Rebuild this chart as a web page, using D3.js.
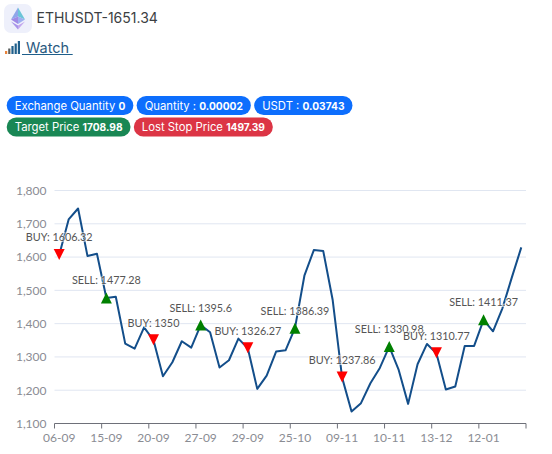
<!DOCTYPE html>
<html>
<head>
<meta charset="utf-8">
<script src="https://cdnjs.cloudflare.com/ajax/libs/d3/7.8.5/d3.min.js"></script>
<style>
body { margin: 0; background: #fff; }
svg { display: block; font-family: Inter, Lato, sans-serif; }
</style>
</head>
<body>
<div id="chart-area"></div>
<script>
// only every 5th date is readable on the axis
var dateLabels = ['06-09','15-09','20-09','27-09','29-09','25-10','09-11','10-11','13-12','12-01'];
var prices = [1606.32,1713,1746,1603,1610,1477.28,1481,1340,1325,1389,
	1350,1242,1284,1347,1328,1395.6,1374,1268,1290,1355,
	1326.27,1204,1244,1316,1320,1386.39,1544,1621,1618,1471,
	1237.86,1136,1161,1221,1267,1330.98,1261,1159,1278,1339,
	1310.77,1202,1211,1333,1333,1411.37,1377,1446,1539,1629];
var signalIndex = [0,5,10,15,20,25,30,35,40,45];
var signalType = ['BUY','SELL','BUY','SELL','BUY','SELL','BUY','SELL','BUY','SELL'];
var yTicks = [1100,1200,1300,1400,1500,1600,1700,1800];
var badgesRow1 = [['Exchange Quantity ','0'],['Quantity : ','0.00002'],['USDT : ','0.03743']];
var badgesRow2 = [['Target Price ','1708.98'],['Lost Stop Price ','1497.39']];

var margin = {top: 190.5, right: 26, bottom: 30.5, left: 54.5};
var width = 552;
var height = 454;
var innerW = width - margin.left - margin.right;
var innerH = height - margin.top - margin.bottom;

var svg = d3.select("#chart-area")
	.append("svg")
	.attr("width", width)
	.attr("height", height);

// header
svg.append("rect").attr("x", 4).attr("y", 4).attr("width", 28).attr("height", 29).attr("rx", 7).attr("fill", "#eef0fb");
var eth = svg.append("g");
eth.append("path").attr("d", "M18 7.5L11 19.5L18 16.5Z").attr("fill", "#8fa6ea");
eth.append("path").attr("d", "M18 7.5L25 19.5L18 16.5Z").attr("fill", "#6cc5d8");
eth.append("path").attr("d", "M11 19.5L18 16.5L18 24Z").attr("fill", "#a08ae6");
eth.append("path").attr("d", "M25 19.5L18 16.5L18 24Z").attr("fill", "#9fb0f0");
eth.append("path").attr("d", "M11 21.5L18 25.5L18 29.5Z").attr("fill", "#a893ea");
eth.append("path").attr("d", "M25 21.5L18 25.5L18 29.5Z").attr("fill", "#c4a8ee");

svg.append("text").attr("x", 36.5).attr("y", 22.5).attr("font-size", 14).attr("fill", "#3c4043").text("ETHUSDT-1651.34");

var barColors = ["#e8833a","#5a5f5f","#1f5f8b","#1f5f8b","#1f5f8b"];
barColors.forEach((c, i) => {
	var h = 3 + i * 2.5;
	svg.append("rect").attr("x", 5 + i * 3.2).attr("y", 54 - h).attr("width", 2.2).attr("height", h).attr("fill", c);
});
svg.append("text").attr("x", 26).attr("y", 53).attr("font-size", 14.5).attr("fill", "#2a5a80").text("Watch");
svg.append("line").attr("x1", 22).attr("x2", 72.7).attr("y1", 54.5).attr("y2", 54.5).attr("stroke", "#1f5f8b");

// badges
function drawBadges(list, top, colors) {
	var left = 6.7;
	list.forEach((b, i) => {
		var bg = svg.append("g");
		var r = bg.append("rect").attr("y", top).attr("height", 19).attr("rx", 9.5).attr("fill", colors[i]);
		var t = bg.append("text").attr("y", top + 13.5).attr("font-size", 11.3).attr("fill", "#fff");
		t.append("tspan").text(b[0]);
		t.append("tspan").attr("font-weight", "bold").attr("font-size", 10.2).text(b[1]);
		var w = t.node().getComputedTextLength() + 16;
		t.attr("x", left + 8);
		r.attr("x", left).attr("width", w);
		left += w + 3.3;
	});
}
drawBadges(badgesRow1, 96, ["#0d6efd","#0d6efd","#0d6efd"]);
drawBadges(badgesRow2, 117.5, ["#198754","#dc3545"]);

var g = svg.append("g")
	.attr("transform", "translate(" + margin.left + ", " + margin.top + ")");

var x = d3.scaleBand()
	.domain(d3.range(prices.length))
	.range([0, innerW]);

var y = d3.scaleLinear()
	.domain([1100, 1800])
	.range([innerH, 0]);

// grid
g.selectAll(".grid").data(yTicks.slice(1)).enter()
	.append("line")
	.attr("class", "grid")
	.attr("x1", 0)
	.attr("x2", innerW)
	.attr("y1", (d) => { return y(d); })
	.attr("y2", (d) => { return y(d); })
	.attr("stroke", "#e0e6f1");

// left y axis
var yAxisCall = d3.axisLeft(y)
	.tickValues(yTicks)
	.tickSize(0)
	.tickPadding(8)
	.tickFormat(d3.format(","));
var yAxis = g.append("g").attr("class", "left axis").call(yAxisCall);
yAxis.select(".domain").remove();
yAxis.selectAll("text").attr("fill", "#8a8c93").attr("font-size", 12).attr("font-family", "Lato, sans-serif");

// bottom axis, ticks on band edges every 5 points
var tickIdx = d3.range(0, prices.length + 1, 5);
var xAxis = g.append("g").attr("class", "bottom axis").attr("transform", "translate(0, " + innerH + ")");
xAxis.append("line").attr("x1", 0).attr("x2", innerW).attr("stroke", "#6e7079");
xAxis.selectAll(".tick").data(tickIdx).enter()
	.append("line")
	.attr("class", "tick")
	.attr("x1", (d) => { return x.step() * d; })
	.attr("x2", (d) => { return x.step() * d; })
	.attr("y2", 5)
	.attr("stroke", "#6e7079");
xAxis.selectAll(".lab").data(dateLabels).enter()
	.append("text")
	.attr("class", "lab")
	.attr("x", (d, i) => { return x(i * 5) + x.bandwidth() / 2; })
	.attr("y", 18)
	.attr("text-anchor", "middle")
	.attr("font-size", 12)
	.attr("font-family", "Lato, sans-serif")
	.attr("fill", "#8a8c93")
	.text((d) => { return d; });

// price line
var line = d3.line()
	.x((d, i) => { return x(i) + x.bandwidth() / 2; })
	.y((d) => { return y(d); });

g.append("path")
	.datum(prices)
	.attr("fill", "none")
	.attr("stroke", "#134e8a")
	.attr("stroke-width", 2)
	.attr("stroke-linejoin", "round")
	.attr("d", line);

// signals
var signals = signalIndex.map((idx, i) => {
	return {idx: idx, type: signalType[i], price: prices[idx]};
});

var marks = g.selectAll(".signal").data(signals).enter()
	.append("g")
	.attr("class", "signal")
	.attr("transform", (d) => {
		return "translate(" + (x(d.idx) + x.bandwidth() / 2) + ", " + y(d.price) + ")";
	});

marks.append("path")
	.attr("d", (d) => { return d.type == "BUY" ? "M-5.5,-6L5.5,-6L0,5Z" : "M0,-5.5L5.5,5.5L-5.5,5.5Z"; })
	.attr("fill", (d) => { return d.type == "BUY" ? "#ff0000" : "#008000"; });

marks.append("text")
	.attr("text-anchor", "middle")
	.attr("y", -13.5)
	.attr("font-size", 10.8)
	.attr("font-family", "Lato, sans-serif")
	.attr("fill", "#555")
	.attr("stroke", "#fff")
	.attr("stroke-opacity", 0.6)
	.attr("stroke-width", 2)
	.attr("paint-order", "stroke")
	.text((d) => { return d.type + ": " + d.price; });
</script>
</body>
</html>
